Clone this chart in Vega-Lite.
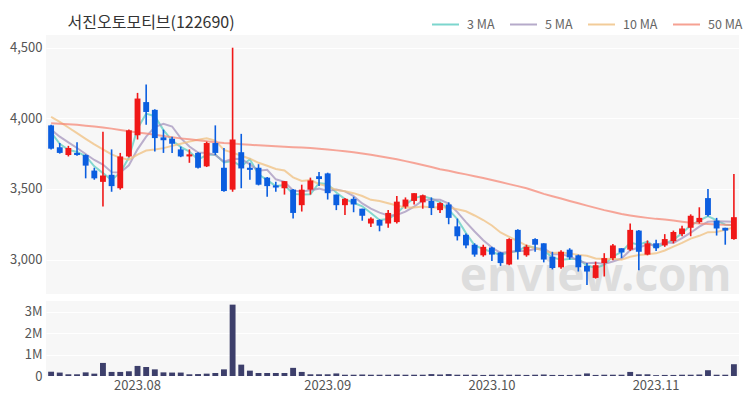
{
  "$schema": "https://vega.github.io/schema/vega-lite/v6.json",
  "background": "white",
  "padding": {"left": 9, "top": 10, "right": 10, "bottom": 5},
  "title": {"text": "서진오토모티브(122690)", "anchor": "start", "fontSize": 16, "fontWeight": "normal", "color": "#333333", "font": "Noto Sans CJK KR", "offset": -21, "dx": 58},
  "config": {
    "view": {"stroke": null, "fill": "#f7f7f7"},
    "font": "Noto Sans CJK KR",
    "axis": {"labelFont": "Noto Sans CJK KR", "labelColor": "#555555", "labelFontSize": 13, "domain": false, "ticks": false, "title": null, "gridColor": "#ffffff", "gridWidth": 1}
  },
  "datasets": {
    "px": [
      {"d":"2023-07-18","o":3950,"h":3955,"l":3780,"c":3785,"v":200000,"ma3":3900,"ma5":3920,"ma10":4010,"ma50":3965},
      {"d":"2023-07-19","o":3795,"h":3825,"l":3750,"c":3755,"v":160000,"ma3":3820,"ma5":3870,"ma10":3975,"ma50":3962},
      {"d":"2023-07-20","o":3740,"h":3805,"l":3730,"c":3790,"v":80000,"ma3":3777,"ma5":3830,"ma10":3935,"ma50":3958},
      {"d":"2023-07-21","o":3755,"h":3830,"l":3735,"c":3740,"v":80000,"ma3":3762,"ma5":3790,"ma10":3895,"ma50":3954},
      {"d":"2023-07-24","o":3740,"h":3745,"l":3575,"c":3665,"v":170000,"ma3":3732,"ma5":3747,"ma10":3855,"ma50":3948},
      {"d":"2023-07-25","o":3630,"h":3650,"l":3565,"c":3575,"v":110000,"ma3":3660,"ma5":3705,"ma10":3815,"ma50":3942},
      {"d":"2023-07-26","o":3550,"h":3905,"l":3375,"c":3595,"v":610000,"ma3":3612,"ma5":3673,"ma10":3780,"ma50":3935},
      {"d":"2023-07-27","o":3600,"h":3780,"l":3480,"c":3520,"v":190000,"ma3":3563,"ma5":3619,"ma10":3745,"ma50":3927},
      {"d":"2023-07-28","o":3505,"h":3755,"l":3495,"c":3730,"v":190000,"ma3":3615,"ma5":3617,"ma10":3720,"ma50":3918},
      {"d":"2023-07-31","o":3730,"h":3920,"l":3725,"c":3915,"v":220000,"ma3":3722,"ma5":3667,"ma10":3707,"ma50":3909},
      {"d":"2023-08-01","o":3880,"h":4180,"l":3850,"c":4140,"v":470000,"ma3":3928,"ma5":3780,"ma10":3743,"ma50":3900},
      {"d":"2023-08-02","o":4115,"h":4240,"l":3955,"c":4045,"v":420000,"ma3":4033,"ma5":3870,"ma10":3772,"ma50":3892},
      {"d":"2023-08-03","o":4060,"h":4065,"l":3765,"c":3860,"v":310000,"ma3":4015,"ma5":3938,"ma10":3779,"ma50":3884},
      {"d":"2023-08-04","o":3865,"h":3920,"l":3755,"c":3845,"v":170000,"ma3":3917,"ma5":3961,"ma10":3789,"ma50":3875},
      {"d":"2023-08-07","o":3855,"h":3870,"l":3755,"c":3820,"v":160000,"ma3":3842,"ma5":3942,"ma10":3805,"ma50":3866},
      {"d":"2023-08-08","o":3780,"h":3800,"l":3725,"c":3730,"v":160000,"ma3":3798,"ma5":3860,"ma10":3820,"ma50":3858},
      {"d":"2023-08-09","o":3730,"h":3780,"l":3685,"c":3745,"v":80000,"ma3":3765,"ma5":3800,"ma10":3835,"ma50":3851},
      {"d":"2023-08-10","o":3755,"h":3760,"l":3645,"c":3650,"v":90000,"ma3":3708,"ma5":3758,"ma10":3848,"ma50":3844},
      {"d":"2023-08-11","o":3660,"h":3835,"l":3655,"c":3825,"v":110000,"ma3":3740,"ma5":3754,"ma10":3858,"ma50":3837},
      {"d":"2023-08-14","o":3825,"h":3950,"l":3740,"c":3755,"v":140000,"ma3":3743,"ma5":3741,"ma10":3842,"ma50":3831},
      {"d":"2023-08-16","o":3650,"h":3790,"l":3480,"c":3485,"v":310000,"ma3":3688,"ma5":3692,"ma10":3776,"ma50":3825},
      {"d":"2023-08-17","o":3495,"h":4500,"l":3480,"c":3850,"v":3330000,"ma3":3697,"ma5":3713,"ma10":3757,"ma50":3821},
      {"d":"2023-08-18","o":3760,"h":3890,"l":3505,"c":3645,"v":530000,"ma3":3660,"ma5":3712,"ma10":3735,"ma50":3817},
      {"d":"2023-08-21","o":3650,"h":3685,"l":3565,"c":3635,"v":250000,"ma3":3710,"ma5":3674,"ma10":3714,"ma50":3813},
      {"d":"2023-08-22","o":3650,"h":3675,"l":3525,"c":3530,"v":140000,"ma3":3603,"ma5":3629,"ma10":3685,"ma50":3809},
      {"d":"2023-08-23","o":3580,"h":3585,"l":3445,"c":3520,"v":140000,"ma3":3562,"ma5":3636,"ma10":3664,"ma50":3805},
      {"d":"2023-08-24","o":3525,"h":3550,"l":3480,"c":3510,"v":140000,"ma3":3520,"ma5":3568,"ma10":3641,"ma50":3802},
      {"d":"2023-08-25","o":3505,"h":3555,"l":3460,"c":3555,"v":140000,"ma3":3528,"ma5":3550,"ma10":3631,"ma50":3799},
      {"d":"2023-08-28","o":3495,"h":3500,"l":3290,"c":3330,"v":380000,"ma3":3465,"ma5":3489,"ma10":3582,"ma50":3796},
      {"d":"2023-08-29","o":3385,"h":3530,"l":3340,"c":3495,"v":190000,"ma3":3460,"ma5":3482,"ma10":3556,"ma50":3793},
      {"d":"2023-08-30","o":3495,"h":3580,"l":3460,"c":3560,"v":80000,"ma3":3462,"ma5":3490,"ma10":3563,"ma50":3790},
      {"d":"2023-08-31","o":3590,"h":3620,"l":3520,"c":3570,"v":80000,"ma3":3542,"ma5":3502,"ma10":3535,"ma50":3785},
      {"d":"2023-09-01","o":3610,"h":3615,"l":3425,"c":3470,"v":80000,"ma3":3533,"ma5":3485,"ma10":3518,"ma50":3779},
      {"d":"2023-09-04","o":3460,"h":3460,"l":3350,"c":3385,"v":120000,"ma3":3475,"ma5":3496,"ma10":3493,"ma50":3773},
      {"d":"2023-09-05","o":3385,"h":3435,"l":3315,"c":3430,"v":60000,"ma3":3428,"ma5":3483,"ma10":3483,"ma50":3767},
      {"d":"2023-09-06","o":3430,"h":3445,"l":3335,"c":3390,"v":60000,"ma3":3402,"ma5":3449,"ma10":3470,"ma50":3760},
      {"d":"2023-09-07","o":3360,"h":3360,"l":3275,"c":3310,"v":70000,"ma3":3377,"ma5":3397,"ma10":3450,"ma50":3751},
      {"d":"2023-09-08","o":3255,"h":3300,"l":3230,"c":3290,"v":60000,"ma3":3330,"ma5":3361,"ma10":3423,"ma50":3742},
      {"d":"2023-09-11","o":3280,"h":3285,"l":3200,"c":3240,"v":60000,"ma3":3280,"ma5":3332,"ma10":3414,"ma50":3732},
      {"d":"2023-09-12","o":3255,"h":3350,"l":3225,"c":3330,"v":60000,"ma3":3287,"ma5":3312,"ma10":3398,"ma50":3721},
      {"d":"2023-09-13","o":3265,"h":3450,"l":3255,"c":3410,"v":70000,"ma3":3327,"ma5":3316,"ma10":3383,"ma50":3710},
      {"d":"2023-09-14","o":3375,"h":3440,"l":3360,"c":3425,"v":60000,"ma3":3388,"ma5":3339,"ma10":3368,"ma50":3697},
      {"d":"2023-09-15","o":3415,"h":3470,"l":3390,"c":3470,"v":60000,"ma3":3435,"ma5":3375,"ma10":3368,"ma50":3684},
      {"d":"2023-09-18","o":3405,"h":3460,"l":3360,"c":3455,"v":60000,"ma3":3450,"ma5":3418,"ma10":3375,"ma50":3670},
      {"d":"2023-09-19","o":3415,"h":3440,"l":3315,"c":3365,"v":90000,"ma3":3430,"ma5":3425,"ma10":3369,"ma50":3655},
      {"d":"2023-09-20","o":3350,"h":3405,"l":3330,"c":3400,"v":70000,"ma3":3407,"ma5":3423,"ma10":3370,"ma50":3640},
      {"d":"2023-09-21","o":3390,"h":3405,"l":3250,"c":3295,"v":90000,"ma3":3353,"ma5":3397,"ma10":3368,"ma50":3628},
      {"d":"2023-09-22","o":3235,"h":3290,"l":3135,"c":3165,"v":60000,"ma3":3287,"ma5":3336,"ma10":3356,"ma50":3615},
      {"d":"2023-09-25","o":3175,"h":3185,"l":3080,"c":3100,"v":60000,"ma3":3187,"ma5":3265,"ma10":3342,"ma50":3603},
      {"d":"2023-09-26","o":3105,"h":3115,"l":3020,"c":3035,"v":60000,"ma3":3100,"ma5":3199,"ma10":3312,"ma50":3590},
      {"d":"2023-09-27","o":3030,"h":3105,"l":3020,"c":3090,"v":50000,"ma3":3075,"ma5":3137,"ma10":3280,"ma50":3578},
      {"d":"2023-10-04","o":3085,"h":3090,"l":2990,"c":3035,"v":60000,"ma3":3053,"ma5":3085,"ma10":3241,"ma50":3563},
      {"d":"2023-10-05","o":3050,"h":3055,"l":2955,"c":2975,"v":60000,"ma3":3033,"ma5":3047,"ma10":3192,"ma50":3549},
      {"d":"2023-10-06","o":2965,"h":3150,"l":2960,"c":3145,"v":60000,"ma3":3052,"ma5":3056,"ma10":3161,"ma50":3534},
      {"d":"2023-10-10","o":3210,"h":3215,"l":3000,"c":3055,"v":60000,"ma3":3058,"ma5":3060,"ma10":3130,"ma50":3520},
      {"d":"2023-10-11","o":3030,"h":3105,"l":3020,"c":3090,"v":50000,"ma3":3097,"ma5":3060,"ma10":3099,"ma50":3505},
      {"d":"2023-10-12","o":3145,"h":3150,"l":3055,"c":3105,"v":60000,"ma3":3083,"ma5":3074,"ma10":3080,"ma50":3485},
      {"d":"2023-10-13","o":3115,"h":3115,"l":2980,"c":3000,"v":70000,"ma3":3065,"ma5":3079,"ma10":3063,"ma50":3465},
      {"d":"2023-10-16","o":3020,"h":3055,"l":2930,"c":2940,"v":50000,"ma3":3015,"ma5":3038,"ma10":3047,"ma50":3448},
      {"d":"2023-10-17","o":2945,"h":3065,"l":2935,"c":3055,"v":50000,"ma3":2998,"ma5":3038,"ma10":3049,"ma50":3432},
      {"d":"2023-10-18","o":3070,"h":3080,"l":3000,"c":3015,"v":50000,"ma3":3003,"ma5":3023,"ma10":3042,"ma50":3415},
      {"d":"2023-10-19","o":3030,"h":3035,"l":2915,"c":2945,"v":60000,"ma3":3005,"ma5":2991,"ma10":3033,"ma50":3398},
      {"d":"2023-10-20","o":2955,"h":2975,"l":2820,"c":2915,"v":120000,"ma3":2958,"ma5":2974,"ma10":3027,"ma50":3382},
      {"d":"2023-10-23","o":2870,"h":2985,"l":2865,"c":2960,"v":50000,"ma3":2940,"ma5":2978,"ma10":3008,"ma50":3366},
      {"d":"2023-10-24","o":2975,"h":3045,"l":2880,"c":3010,"v":60000,"ma3":2962,"ma5":2969,"ma10":3004,"ma50":3350},
      {"d":"2023-10-25","o":3010,"h":3110,"l":2995,"c":3100,"v":60000,"ma3":3023,"ma5":2986,"ma10":3005,"ma50":3336},
      {"d":"2023-10-26","o":3080,"h":3080,"l":3010,"c":3050,"v":60000,"ma3":3053,"ma5":3007,"ma10":2999,"ma50":3322},
      {"d":"2023-10-27","o":3070,"h":3255,"l":3060,"c":3210,"v":190000,"ma3":3120,"ma5":3066,"ma10":3020,"ma50":3312},
      {"d":"2023-10-30","o":3205,"h":3210,"l":2925,"c":3055,"v":80000,"ma3":3105,"ma5":3085,"ma10":3032,"ma50":3303},
      {"d":"2023-10-31","o":3035,"h":3135,"l":3030,"c":3115,"v":80000,"ma3":3127,"ma5":3106,"ma10":3038,"ma50":3295},
      {"d":"2023-11-01","o":3115,"h":3140,"l":3060,"c":3080,"v":40000,"ma3":3083,"ma5":3102,"ma10":3044,"ma50":3288},
      {"d":"2023-11-02","o":3100,"h":3180,"l":3090,"c":3145,"v":50000,"ma3":3113,"ma5":3121,"ma10":3064,"ma50":3283},
      {"d":"2023-11-03","o":3130,"h":3205,"l":3115,"c":3195,"v":50000,"ma3":3140,"ma5":3118,"ma10":3092,"ma50":3276},
      {"d":"2023-11-06","o":3180,"h":3240,"l":3165,"c":3220,"v":60000,"ma3":3187,"ma5":3151,"ma10":3118,"ma50":3268},
      {"d":"2023-11-07","o":3225,"h":3320,"l":3165,"c":3310,"v":60000,"ma3":3242,"ma5":3190,"ma10":3148,"ma50":3261},
      {"d":"2023-11-08","o":3265,"h":3370,"l":3255,"c":3295,"v":70000,"ma3":3275,"ma5":3233,"ma10":3168,"ma50":3255},
      {"d":"2023-11-09","o":3435,"h":3500,"l":3305,"c":3315,"v":270000,"ma3":3307,"ma5":3267,"ma10":3194,"ma50":3252},
      {"d":"2023-11-10","o":3275,"h":3295,"l":3170,"c":3220,"v":60000,"ma3":3277,"ma5":3272,"ma10":3195,"ma50":3249},
      {"d":"2023-11-13","o":3225,"h":3225,"l":3105,"c":3205,"v":60000,"ma3":3247,"ma5":3269,"ma10":3210,"ma50":3247},
      {"d":"2023-11-14","o":3145,"h":3605,"l":3140,"c":3300,"v":550000,"ma3":3242,"ma5":3267,"ma10":3229,"ma50":3245}
    ]
  },
  "spacing": 1,
  "vconcat": [
    {
      "width": 693,
      "height": 259,
      "data": {"name": "px"},
      "encoding": {
        "x": {"field": "d", "type": "ordinal", "scale": {"paddingInner": 0.32, "paddingOuter": 0.25}, "axis": null}
      },
      "layer": [
        {
          "data": {"values": [{"wm": "enview.com"}]},
          "mark": {"type": "text", "fontSize": 46, "fontWeight": "bold", "color": "#dddddd", "font": "Noto Sans", "baseline": "alphabetic", "align": "center"},
          "encoding": {
            "x": {"datum": "2023-10-23", "type": "ordinal"},
            "y": {"datum": 2780, "type": "quantitative", "scale": {"domain": [2756, 4590], "nice": false, "zero": false},
              "axis": {"values": [3000, 3500, 4000, 4500], "labelExpr": "format(datum.value, ',')", "grid": true, "labelPadding": 4}},
            "text": {"field": "wm"}
          }
        },
        {
          "transform": [{"fold": ["ma3", "ma5", "ma10", "ma50"], "as": ["s", "val"]}],
          "mark": {"type": "line", "strokeWidth": 2, "opacity": 0.75},
          "encoding": {
            "y": {"field": "val", "type": "quantitative", "scale": {"domain": [2756, 4590], "nice": false, "zero": false},
              "axis": {"values": [3000, 3500, 4000, 4500], "labelExpr": "format(datum.value, ',')", "grid": true, "labelPadding": 4}},
            "color": {
              "field": "s", "type": "nominal",
              "scale": {"domain": ["ma3", "ma5", "ma10", "ma50"], "range": ["#5ccdc2", "#a596bd", "#f0c080", "#f58a78"]},
              "legend": {"orient": "none", "legendX": 385, "legendY": -25, "direction": "horizontal", "title": null,
                "symbolType": "stroke", "symbolStrokeWidth": 2, "symbolSize": 729, "symbolOpacity": 0.8,
                "labelFontSize": 12.5, "labelColor": "#666666", "labelFont": "Noto Sans CJK KR", "labelOffset": 7, "columnPadding": 11,
                "labelExpr": "{'ma3':'3 MA','ma5':'5 MA','ma10':'10 MA','ma50':'50 MA'}[datum.label]"}
            },
            "detail": {"field": "s"}
          }
        },
        {
          "mark": {"type": "rule", "strokeWidth": 1.6},
          "encoding": {
            "y": {"field": "l", "type": "quantitative", "scale": {"domain": [2756, 4590], "nice": false, "zero": false}},
            "y2": {"field": "h"},
            "color": {"condition": {"test": "datum.c >= datum.o", "value": "#f01818"}, "value": "#0b5ee0"}
          }
        },
        {
          "mark": {"type": "bar"},
          "encoding": {
            "y": {"field": "o", "type": "quantitative", "scale": {"domain": [2756, 4590], "nice": false, "zero": false}},
            "y2": {"field": "c"},
            "color": {"condition": {"test": "datum.c >= datum.o", "value": "#f01818"}, "value": "#0b5ee0"}
          }
        }
      ]
    },
    {
      "width": 693,
      "height": 75,
      "data": {"name": "px"},
      "mark": {"type": "bar", "color": "#3d3f6b"},
      "encoding": {
        "x": {"field": "d", "type": "ordinal", "scale": {"paddingInner": 0.32, "paddingOuter": 0.25},
          "axis": {"values": ["2023-08-01", "2023-09-01", "2023-10-04", "2023-11-01"], "labelExpr": "replace(slice(datum.value,0,7),'-','.')", "labelAngle": 0, "labelPadding": 3, "grid": false}},
        "y": {"field": "v", "type": "quantitative", "scale": {"domain": [0, 3500000], "nice": false},
          "axis": {"values": [0, 1000000, 2000000, 3000000], "labelExpr": "datum.value == 0 ? '0' : (datum.value / 1000000) + 'M'", "grid": true, "labelPadding": 4}}
      }
    }
  ]
}
